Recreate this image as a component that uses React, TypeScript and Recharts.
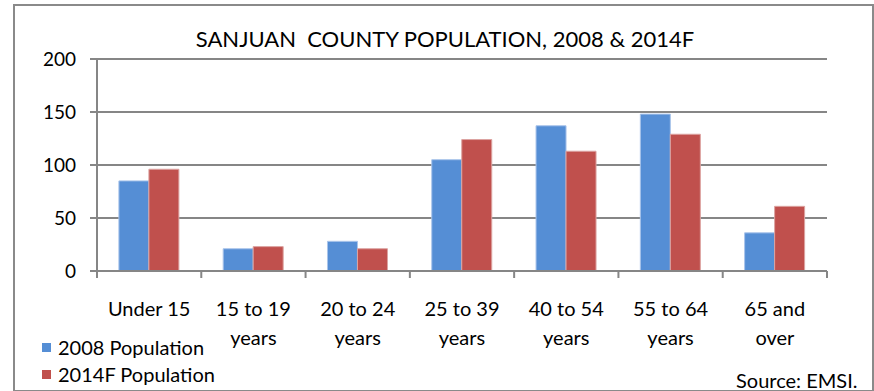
import React from "react";
import { BarChart, Bar, XAxis, YAxis, CartesianGrid } from "recharts";

const categories = [
  ["Under 15"],
  ["15 to 19", "years"],
  ["20 to 24", "years"],
  ["25 to 39", "years"],
  ["40 to 54", "years"],
  ["55 to 64", "years"],
  ["65 and", "over"],
];
const pop2008 = [85, 21, 28, 105, 137, 148, 36];
const pop2014 = [96, 23, 21, 124, 113, 129, 61];
const yTicks = [0, 50, 100, 150, 200];

const FONT = "Lato, 'Noto Sans', sans-serif";
const BLUE = "#558ED5";
const RED = "#C0504D";
const AXIS = "#868686";

const data = categories.map((lines, i) => ({
  name: lines.join("\n"),
  p2008: pop2008[i],
  p2014: pop2014[i],
}));

// label plus Excel-style tick marks on the category boundaries
function CategoryTick(props: any) {
  const { x, y, payload, index, visibleTicksCount, width } = props;
  const count = visibleTicksCount || categories.length;
  let half = Number(payload && payload.offset);
  if (!isFinite(half) || half <= 0) half = Number(width) / count / 2;
  if (!isFinite(half) || half <= 0) half = 52;
  const lines = String(payload.value).split("\n");
  const top = Number(y) - 8;
  return (
    <g>
      <line x1={x - half} x2={x - half} y1={top} y2={top + 7} stroke={AXIS} strokeWidth={2} />
      {index === count - 1 && (
        <line x1={x + half} x2={x + half} y1={top} y2={top + 7} stroke={AXIS} strokeWidth={2} />
      )}
      <text x={x} y={top} textAnchor="middle" fontSize={20} fontFamily={FONT} fill="#000">
        {lines.map((l, i) => (
          <tspan key={i} x={x} dy={i === 0 ? 45 : 29}>
            {l}
          </tspan>
        ))}
      </text>
    </g>
  );
}

export default function App() {
  return (
    <div style={{ position: "absolute", left: 0, top: 0, width: 874, height: 391, background: "#fff", fontFamily: FONT }}>
      <div
        style={{
          position: "absolute",
          left: 13,
          top: 4,
          width: 857,
          height: 384,
          border: "2px solid #8a8a8a",
        }}
      />
      <div style={{ position: "absolute", left: 0, width: 874, top: 25, textAlign: "center", fontSize: 22, lineHeight: "28px", color: "#000", paddingLeft: 16, boxSizing: "border-box", whiteSpace: "pre" }}>
        {"SANJUAN  COUNTY POPULATION, 2008 & 2014F"}
      </div>
      <BarChart
        width={874}
        height={391}
        data={data}
        margin={{ top: 59, right: 47, bottom: 20, left: 37 }}
        barCategoryGap="21%"
        barGap={0}
        style={{ position: "absolute", left: 0, top: 0 }}
      >
        <CartesianGrid vertical={false} stroke={AXIS} strokeWidth={2} />
        <XAxis
          dataKey="name"
          height={100}
          axisLine={{ stroke: AXIS, strokeWidth: 2 }}
          tickLine={false}
          tickSize={0}
          tickMargin={8}
          interval={0}
          tick={<CategoryTick />}
        />
        <YAxis
          width={60}
          domain={[0, 200]}
          ticks={yTicks}
          axisLine={{ stroke: AXIS, strokeWidth: 2 }}
          tickLine={{ stroke: AXIS, strokeWidth: 2 }}
          tickSize={7}
          tickMargin={14}
          tick={{ fontSize: 19, fill: "#000", fontFamily: FONT }}
        />
        <Bar dataKey="p2008" name="2008 Population" fill={BLUE} stroke="#a9c4ea" strokeWidth={1} isAnimationActive={false} />
        <Bar dataKey="p2014" name="2014F Population" fill={RED} stroke="#dca3a1" strokeWidth={1} isAnimationActive={false} />
      </BarChart>
      <div style={{ position: "absolute", left: 42, top: 334, fontSize: 20, lineHeight: "27px", color: "#000" }}>
        {[
          { label: "2008 Population", color: BLUE },
          { label: "2014F Population", color: RED },
        ].map((it) => (
          <div key={it.label} style={{ display: "flex", alignItems: "center" }}>
            <span style={{ display: "inline-block", width: 9, height: 9, background: it.color, marginRight: 7 }} />
            {it.label}
          </div>
        ))}
      </div>
      <div style={{ position: "absolute", left: 736, top: 367, fontSize: 20, lineHeight: "26px", color: "#000" }}>Source: EMSI.</div>
    </div>
  );
}
